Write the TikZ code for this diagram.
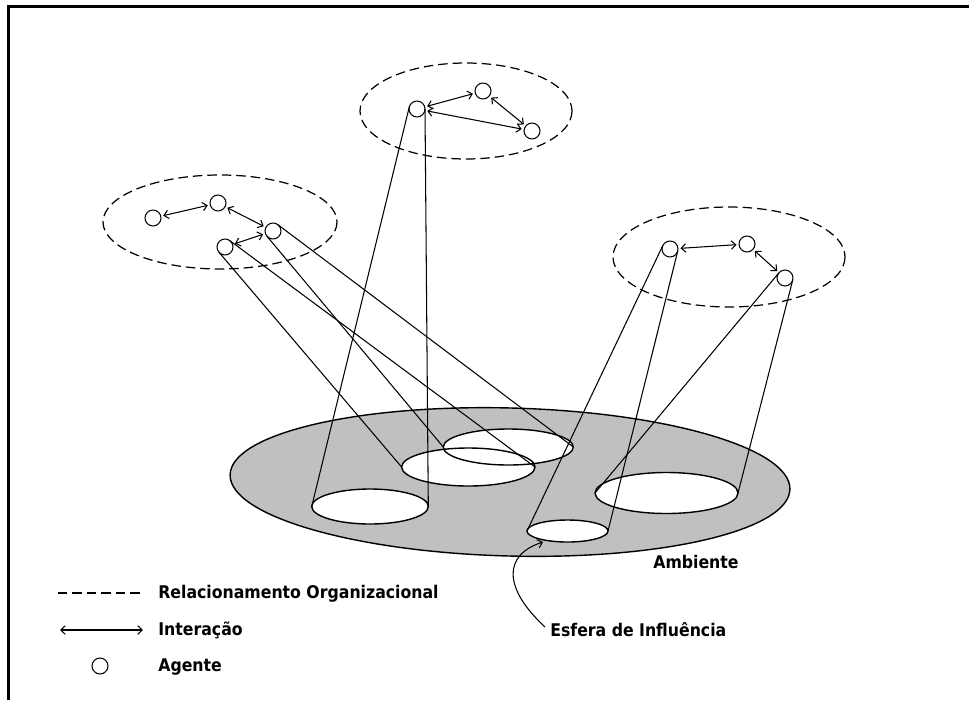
\documentclass[tikz,border=0pt]{standalone}
\usepackage{fontspec}
\newfontfamily\lblfont{DejaVu Sans Condensed Bold}
\usetikzlibrary{arrows.meta,calc}
\definecolor{envgray}{RGB}{192,192,192}

\begin{document}
\begin{tikzpicture}[x=0.02cm,y=-0.02cm,
  agent/.style={circle,draw,line width=0.6pt,minimum size=0.32cm,inner sep=0pt,outer sep=0pt},
  org/.style={line width=0.7pt,dash pattern=on 0.19cm off 0.1cm},
  inter/.style={{Straight Barb[length=0.09cm,width=0.17cm]}-{Straight Barb[length=0.09cm,width=0.17cm]},line width=0.6pt,shorten <=0.05cm,shorten >=0.05cm},
  proj/.style={line width=0.6pt},
  outline/.style={line width=0.8pt},
  lbl/.style={font=\lblfont\fontsize{9.95pt}{11pt}\selectfont,inner sep=0pt,anchor=base west}]

\useasboundingbox (0,0) rectangle (969,700);

% frame (top and left edges)
\draw[line width=1.5pt] (8.7,700) -- (8.7,6.7) -- (969,6.7);

% environment plate
\filldraw[fill=envgray,outline,rotate around={-1.5:(510,482)}]
  (510,482) ellipse [x radius=280,y radius=74];

% spheres of influence on the plate: fills first, then outlines
\foreach \n/\cx/\cy/\rx/\ry in {h1/370/506.5/58.3/17.5, h2/468.3/467/66.7/19,
    h3/508.3/447/65/18, h4/567.5/531/40.5/11, h5/666.5/493/71.5/20.5} {
  \coordinate (\n) at (\cx,\cy);
  \coordinate (\n-w) at (\cx-\rx,\cy);
  \coordinate (\n-e) at (\cx+\rx,\cy);
  \fill[white] (\n) ellipse [x radius=\rx,y radius=\ry];
}
\foreach \cx/\cy/\rx/\ry in {370/506.5/58.3/17.5, 468.3/467/66.7/19,
    508.3/447/65/18, 567.5/531/40.5/11, 666.5/493/71.5/20.5}
  \draw[outline] (\cx,\cy) ellipse [x radius=\rx,y radius=\ry];

% organisational relationships
\draw[org] (220,222) ellipse [x radius=117,y radius=47];
\draw[org] (466,111) ellipse [x radius=106,y radius=48];
\draw[org] (729,257) ellipse [x radius=116,y radius=50];

% agents
\node[agent] (a1) at (153,218) {};
\node[agent] (a2) at (218,203) {};
\node[agent] (a3) at (273,231) {};
\node[agent] (a4) at (225,247) {};
\node[agent] (b1) at (417,109) {};
\node[agent] (b2) at (483,91) {};
\node[agent] (b3) at (532,131) {};
\node[agent] (c1) at (670,249) {};
\node[agent] (c2) at (747,244) {};
\node[agent] (c3) at (785,278) {};

% interactions
\draw[inter] (a1) -- (a2);
\draw[inter] (a2) -- (a3);
\draw[inter] (a4) -- (a3);
\draw[inter] (b1) -- (b2);
\draw[inter] (b2) -- (b3);
\draw[inter] (b1) -- (b3);
\draw[inter] (c1) -- (c2);
\draw[inter] (c2) -- (c3);

% projections of each agent onto its sphere of influence
\foreach \a/\h in {b1/h1, a4/h2, a3/h3, c1/h4, c3/h5} {
  \draw[proj] (tangent cs:node=\a,point={(\h-w)},solution=2) -- (\h-w);
  \draw[proj] (tangent cs:node=\a,point={(\h-e)},solution=1) -- (\h-e);
}

% labels on the plate
\node[lbl] (amb) at (653,568) {Ambiente};
\node[lbl] (esf) at (550,636) {Esfera de Influência};
\coordinate (esf-start) at (545,627);
\coordinate (esf-tip) at (543,542);
\draw[proj,-{Straight Barb[length=0.09cm,width=0.17cm]}]
  (esf-start) .. controls (503,588) and (503,555) .. (esf-tip);

% legend
\coordinate (k1a) at (58,593);  \coordinate (k1b) at (143,593);
\coordinate (k2a) at (60,630);  \coordinate (k2b) at (143,630);
\draw[org] (k1a) -- (k1b);
\draw[inter,shorten <=0pt,shorten >=0pt] (k2a) -- (k2b);
\node[agent] (k3) at (100,666) {};
\node[lbl] (t1) at (158,598) {Relacionamento Organizacional};
\node[lbl] (t2) at (158,635) {Interação};
\node[lbl] (t3) at (158,671) {Agente};
\end{tikzpicture}
\end{document}
